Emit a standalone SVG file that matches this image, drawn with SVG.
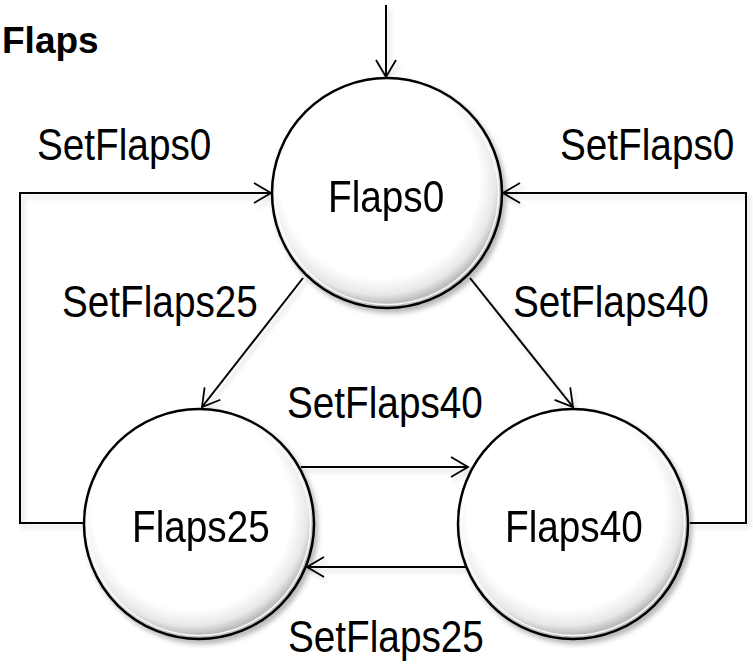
<svg xmlns="http://www.w3.org/2000/svg" width="753" height="667" viewBox="0 0 753 667">
  <style>
    .lbl { font-family: "Liberation Sans", Arial, sans-serif; font-size: 44px; fill: #000; }
    .title { font-family: "Liberation Sans", Arial, sans-serif; font-size: 37px; font-weight: bold; fill: #000; }
    .edge { fill: none; stroke: #000; stroke-width: 2; marker-end: url(#arrow); }
    .state { fill: url(#bulb); stroke: #000; stroke-width: 2.5; }
    .gloss { fill: none; stroke: #fff; stroke-width: 1.5; opacity: 0.9; }
  </style>
  <defs>
    <radialGradient id="bulb" cx="0.47" cy="0.44" r="0.54">
      <stop offset="0" stop-color="#ffffff"/>
      <stop offset="0.8" stop-color="#ffffff"/>
      <stop offset="0.93" stop-color="#e8e8e8"/>
      <stop offset="1" stop-color="#bdbdbd"/>
    </radialGradient>
    <filter id="drop" x="-10%" y="-10%" width="125%" height="125%">
      <feGaussianBlur in="SourceAlpha" stdDeviation="2.5"/>
      <feOffset dx="3" dy="4" result="b"/>
      <feFlood flood-color="#000" flood-opacity="0.28"/>
      <feComposite in2="b" operator="in"/>
      <feMerge>
        <feMergeNode/>
        <feMergeNode in="SourceGraphic"/>
      </feMerge>
    </filter>
    <filter id="lineDrop" x="-5%" y="-5%" width="115%" height="115%">
      <feGaussianBlur in="SourceAlpha" stdDeviation="2"/>
      <feOffset dx="3" dy="4" result="b"/>
      <feFlood flood-color="#000" flood-opacity="0.15"/>
      <feComposite in2="b" operator="in"/>
      <feMerge>
        <feMergeNode/>
        <feMergeNode in="SourceGraphic"/>
      </feMerge>
    </filter>
    <marker id="arrow" markerUnits="userSpaceOnUse" markerWidth="22" markerHeight="24" refX="18" refY="11" orient="auto">
      <path d="M1,1 L18,11 L1,21" fill="none" stroke="#000" stroke-width="1.8"/>
    </marker>
  </defs>

  <text class="title" x="2" y="53">Flaps</text>

  <!-- transitions -->
  <g id="connectors" filter="url(#lineDrop)">
    <path class="edge" d="M386,5 L386,77"/>
    <path class="edge" d="M83,523 L20,523 L20,193 L271,193"/>
    <path class="edge" d="M690,523 L746,523 L746,193 L503,193"/>
    <path class="edge" d="M303,278 L202,407"/>
    <path class="edge" d="M470,278 L573,407"/>
    <path class="edge" d="M301,467 L468,467"/>
    <path class="edge" d="M466,567 L307,567"/>
  </g>

  <!-- transition labels, condensed horizontally -->
  <g id="labels">
    <text class="lbl" transform="translate(37,160) scale(0.88,1)">SetFlaps0</text>
    <text class="lbl" transform="translate(560,160) scale(0.88,1)">SetFlaps0</text>
    <text class="lbl" transform="translate(62,317) scale(0.88,1)">SetFlaps25</text>
    <text class="lbl" transform="translate(513,317) scale(0.88,1)">SetFlaps40</text>
    <text class="lbl" transform="translate(287,418) scale(0.88,1)">SetFlaps40</text>
    <text class="lbl" transform="translate(288,652) scale(0.88,1)">SetFlaps25</text>
  </g>

  <g id="Flaps0" filter="url(#drop)">
    <circle class="state" cx="387" cy="193" r="115"/>
    <circle class="gloss" cx="387" cy="193" r="111.5"/>
    <text class="lbl" transform="translate(328,212) scale(0.88,1)">Flaps0</text>
  </g>
  <g id="Flaps25" filter="url(#drop)">
    <circle class="state" cx="199" cy="524" r="115"/>
    <circle class="gloss" cx="199" cy="524" r="111.5"/>
    <text class="lbl" transform="translate(132,542) scale(0.88,1)">Flaps25</text>
  </g>
  <g id="Flaps40" filter="url(#drop)">
    <circle class="state" cx="573" cy="524" r="115"/>
    <circle class="gloss" cx="573" cy="524" r="111.5"/>
    <text class="lbl" transform="translate(505,542) scale(0.88,1)">Flaps40</text>
  </g>
</svg>
